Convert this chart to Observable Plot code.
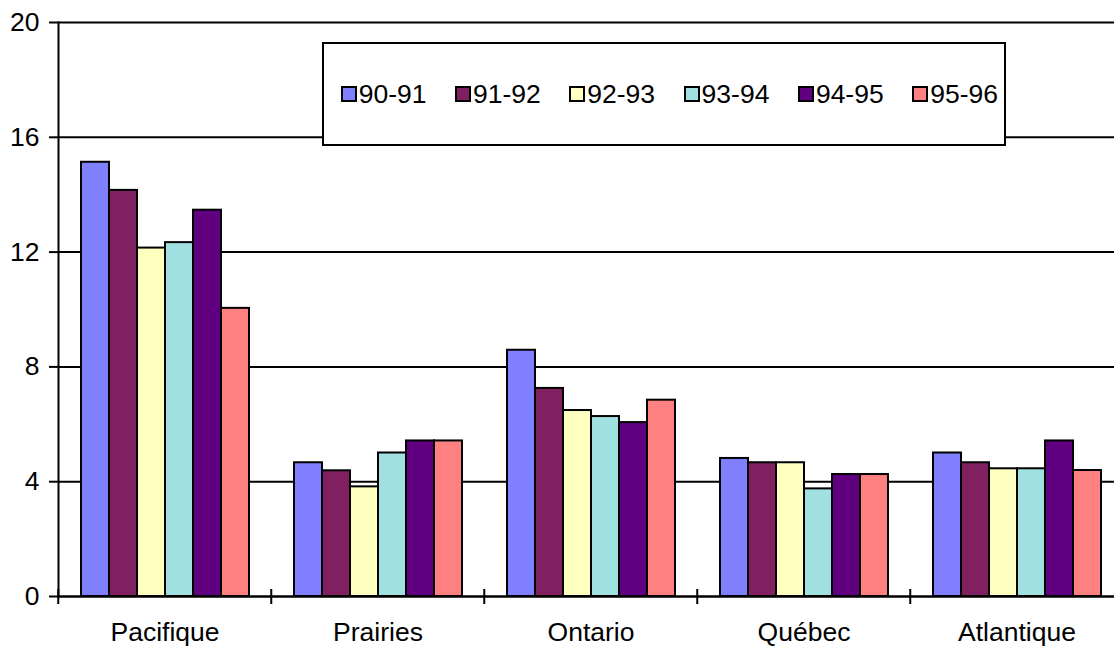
<!DOCTYPE html>
<html><head><meta charset="utf-8">
<script src="https://cdn.jsdelivr.net/npm/d3@7"></script>
<script src="https://cdn.jsdelivr.net/npm/@observablehq/plot@0.6"></script>
<style>
html,body{margin:0;padding:0;background:#fff;overflow:hidden;}
#wrap{position:relative;width:1114px;height:646px;overflow:hidden;background:#fff;}
#chart svg{max-width:none !important;}
#legend{position:absolute;left:322px;top:42px;width:684px;height:104px;box-sizing:border-box;border:2px solid #000;background:#fff;font-family:"Liberation Sans",Arial,sans-serif;font-size:26.5px;color:#000;}
.item{position:absolute;top:0;height:100%;display:flex;align-items:center;white-space:nowrap;}
.sw{width:16px;height:16px;box-sizing:border-box;border:2px solid #000;margin-right:2px;}
#chart svg [aria-label="frame"]{stroke-width:2px;}
#chart svg [aria-label="y-axis tick"]{stroke-width:2px;}
#chart svg [aria-label="y-axis tick label"]{font-size:26.5px;}
</style></head>
<body><div id="wrap"><div id="chart"></div><div id="legend"></div></div>
<script>
const regions = ["Pacifique", "Prairies", "Ontario", "Québec", "Atlantique"];
const years = ["90-91", "91-92", "92-93", "93-94", "94-95", "95-96"];
const values9091 = [15.13, 4.66, 8.58, 4.81, 5.00];
const values9192 = [14.15, 4.38, 7.25, 4.66, 4.66];
const values9293 = [12.14, 3.82, 6.48, 4.66, 4.45];
const values9394 = [12.33, 5.00, 6.27, 3.75, 4.45];
const values9495 = [13.46, 5.42, 6.06, 4.25, 5.42];
const values9596 = [10.04, 5.42, 6.84, 4.25, 4.39];
const colors = ["#8080ff", "#802060", "#ffffc0", "#a0e0e0", "#600080", "#ff8080"];
const yTicks = [0, 4, 8, 12, 16, 20];

const series = [values9091, values9192, values9293, values9394, values9495, values9596];
const table = years.flatMap((yr, j) => regions.map((r, i) => ({region: r, year: yr, value: series[j][i]})));

const W = 1125, ML = 57, MR = 0.5;
const step = (W - ML - MR) / regions.length;

const chart = Plot.plot({
  width: W, height: 646,
  marginLeft: ML, marginRight: MR, marginTop: 22, marginBottom: 50,
  style: {fontFamily: "Liberation Sans, Arial, sans-serif", fontSize: "26.5px", color: "#000", background: "transparent", overflow: "visible", maxWidth: "none"},
  fx: {domain: regions, padding: 0, axis: null, label: null},
  x: {domain: years, paddingInner: 0, paddingOuter: 0.724, axis: null},
  y: {domain: [0, 20], axis: "left", ticks: yTicks, tickSize: 9, tickPadding: 10, label: null, line: true},
  color: {domain: years, range: colors},
  marks: [
    Plot.gridY(yTicks, {stroke: "#000", strokeOpacity: 1, strokeWidth: 2}),
    Plot.barY(table, {fx: "region", x: "year", y: "value", fill: "year", stroke: "#000", strokeWidth: 2}),
    Plot.ruleY([0], {stroke: "#000", strokeWidth: 2}),
    Plot.axisFx({anchor: "bottom", tickSize: 0, tickPadding: 26, label: null, fontSize: 26.5}),
    Plot.axisFx({anchor: "bottom", tickSize: 15, dy: -7, dx: -step / 2, tickFormat: () => "", strokeWidth: 2, label: null})
  ]
});
document.getElementById("chart").appendChild(chart);

const colorScale = d3.scaleOrdinal(years, colors);
const lg = d3.select("#legend");
years.forEach((yr, i) => {
  const it = lg.append("div").attr("class", "item").style("left", (16.7 + 114.3 * i) + "px");
  it.append("div").attr("class", "sw").style("background", colorScale(yr));
  it.append("span").text(yr);
});
</script>
</body></html>
